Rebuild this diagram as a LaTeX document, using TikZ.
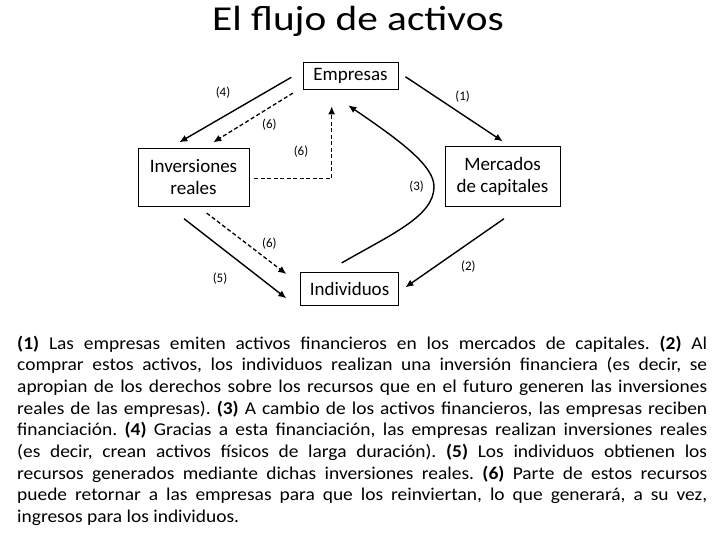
\documentclass[tikz,border=0pt]{standalone}
\usepackage{fontspec}
\setmainfont{Carlito}
\newfontfamily\widefont{Carlito}[FakeStretch=1.08]
\newfontfamily\titlefont{Carlito}[FakeStretch=1.18]
\usepackage{tikz}
\usetikzlibrary{arrows.meta,positioning}
\tikzset{
  sector/.style={draw=black,line width=.8pt,fill=white,align=center,inner sep=0pt,font=\fontsize{19}{22}\selectfont},
  flowlabel/.style={inner sep=1pt,font=\fontsize{13}{15}\selectfont},
  flow/.style={-{Latex[length=8pt,width=7pt]},line width=1.4pt},
  backflow/.style={-{Latex[length=8pt,width=7pt]},line width=1.3pt,dash pattern=on 4pt off 2.5pt},
}

\begin{document}
\begin{tikzpicture}[x=1pt,y=-1pt]
    \useasboundingbox (0,0) rectangle (720,540);
    \node[anchor=base,font=\titlefont\fontsize{35}{40}\selectfont] (title) at (358,31) {El flujo de activos};
    \node[sector,minimum width=95pt,minimum height=27pt] (emp) at (350.5,75.5) {Empresas};
    \node[sector,minimum width=111pt,minimum height=58pt] (inv) at (193.5,177) {Inversiones\\reales};
    \node[sector,minimum width=115pt,minimum height=60pt] (mer) at (502.5,176.5) {Mercados\\de capitales};
    \node[sector,minimum width=98pt,minimum height=33pt] (ind) at (349.5,289) {Individuos};
    % flujos
    \draw[flow] ([shift={(7,1.2)}]emp.east)--([shift={(0.2,-4.8)}]mer.north);
    \draw[flow] ([shift={(1.5,11.8)}]mer.south)--([shift={(6.5,-1.7)}]ind.east);
    \coordinate (bend3) at (434,186.7);
    \draw[flow] ([shift={(-7.8,-9.2)}]ind.north) .. controls (392,234) and (434,216) .. (bend3)
      .. controls (434,166) and (402,142) .. ([shift={(-2.2,16)}]emp.south);
    \draw[flow] ([shift={(-11.3,1.8)}]emp.west)--([shift={(-14.2,-5.3)}]inv.north);
    \draw[flow] ([shift={(-9.5,12.3)}]inv.south)--([shift={(-13.8,9.3)}]ind.west);
    % retorno
    \draw[backflow] ([shift={(-9.7,3.7)}]emp.south west)--([shift={(19.8,-5.3)}]inv.north);
    \draw[backflow] ([shift={(5,1.3)}]inv.east) -| ([shift={(-18.8,17)}]emp.south);
    \draw[backflow] ([shift={(13.2,6.7)}]inv.south)--([shift={(-13.8,-15)}]ind.west);
    % etiquetas
    \node[flowlabel] (l1) at (462.7,96.7) {(1)};
    \node[flowlabel] (l2) at (468.3,266.7) {(2)};
    \node[flowlabel] (l3) at (416.7,186.7) {(3)};
    \node[flowlabel] (l4) at (223,92.7) {(4)};
    \node[flowlabel] (l5) at (220,278.3) {(5)};
    \node[flowlabel] (l6a) at (269.3,125) {(6)};
    \node[flowlabel] (l6b) at (301,151.7) {(6)};
    \node[flowlabel] (l6c) at (269.3,243.3) {(6)};
    \node[anchor=north west,inner sep=0pt,text width=690pt,align=justify,font=\widefont\fontsize{18}{21.7}\selectfont\frenchspacing] (texto) at (17,335.5) {%
      \textbf{(1)} Las empresas emiten activos financieros en los mercados de capitales. \textbf{(2)} Al\linebreak
      comprar estos activos, los individuos realizan una inversión financiera (es decir, se\linebreak
      apropian de los derechos sobre los recursos que en el futuro generen las inversiones\linebreak
      reales de las empresas). \textbf{(3)} A cambio de los activos financieros, las empresas reciben\linebreak
      financiación. \textbf{(4)} Gracias a esta financiación, las empresas realizan inversiones reales\linebreak
      (es decir, crean activos físicos de larga duración). \textbf{(5)} Los individuos obtienen los\linebreak
      recursos generados mediante dichas inversiones reales. \textbf{(6)} Parte de estos recursos\linebreak
      puede retornar a las empresas para que los reinviertan, lo que generará, a su vez,\linebreak
      ingresos para los individuos.};
  \end{tikzpicture}
\end{document}
